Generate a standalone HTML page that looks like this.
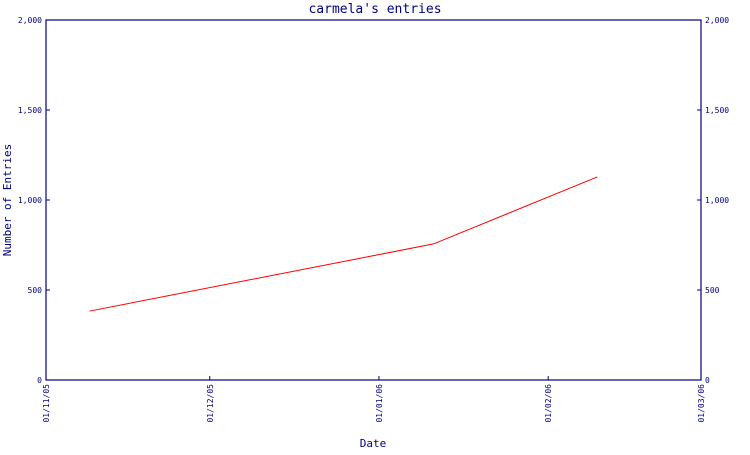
<!DOCTYPE html>
<html><head><meta charset="utf-8"><style>
body{margin:0;background:#fff}
svg text{font-family:"DejaVu Sans Mono","Liberation Mono",monospace;fill:#000080}
</style></head><body>
<svg width="750" height="450">
<g id="g"></g>
</svg>
<script>
const yTicks=[0,500,1000,1500,2000];
const yTickLabels=["0","500","1,000","1,500","2,000"];
const xTickDays=[0,30,61,92,120];
const xTickLabels=["01/11/05","01/12/05","01/01/06","01/02/06","01/03/06"];
const pointDays=[8,71,101];
const pointValues=[383,756,1128];
const L=46,R=701,T=20,B=380;
const xs=d=>L+(d-0)/(120-0)*(R-L);
const ys=v=>B-(v/2000)*(B-T);
const g=document.getElementById('g');
const NS='http://www.w3.org/2000/svg';
function mk(t,a){const e=document.createElementNS(NS,t);for(const k in a)e.setAttribute(k,a[k]);g.appendChild(e);return e;}
let e=mk('rect',{x:L,y:T,width:R-L,height:B-T,fill:'none',stroke:'#000080','stroke-width':1.2});


e=mk('text',{x:375,y:13,'text-anchor':'middle','font-size':13});e.textContent="carmela's entries";


e=mk('text',{x:373,y:447,'text-anchor':'middle','font-size':11});e.textContent="Date";


e=mk('text',{x:0,y:0,'text-anchor':'middle','font-size':11,transform:'translate(11,200) rotate(-90)'});e.textContent="Number of Entries";


yTicks.forEach((v,i)=>{
  const y=ys(v);
  let t=mk('line',{x1:L,x2:L+4,y1:y,y2:y,stroke:'#000080'});
  
  
  t=mk('line',{x1:R-4,x2:R,y1:y,y2:y,stroke:'#000080'});
  
  
  let l=mk('text',{x:L-4,y:y+3,'text-anchor':'end','font-size':8});l.textContent=yTickLabels[i];
  
  
  l=mk('text',{x:R+4,y:y+3,'text-anchor':'start','font-size':8});l.textContent=yTickLabels[i];
  
  
});
xTickDays.forEach((d,i)=>{
  const x=xs(d);
  let t=mk('line',{x1:x,x2:x,y1:B-4,y2:B,stroke:'#000080'});
  
  
  let l=mk('text',{x:0,y:0,'text-anchor':'end','font-size':8,transform:`translate(${x+3},384) rotate(-90)`});l.textContent=xTickLabels[i];
  
  
});
const p=mk('polyline',{points:pointDays.map((d,i)=>xs(d)+','+ys(pointValues[i])).join(' '),fill:'none',stroke:'#ff0000','stroke-width':1});


</script>
</body></html>
